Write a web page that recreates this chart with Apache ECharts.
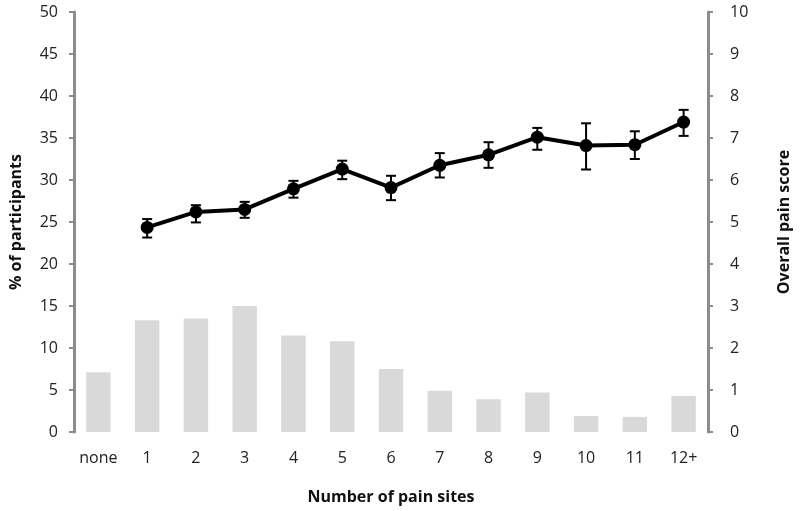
<!DOCTYPE html>
<html>
<head>
<meta charset="utf-8">
<script src="https://cdn.jsdelivr.net/npm/echarts@6/dist/echarts.min.js"></script>
<style>
  html, body { margin: 0; padding: 0; background: #fff; }
  #chart { width: 800px; height: 511px; }
</style>
</head>
<body>
<div id="chart"></div>
<script>
// number of pain sites
var categories = ['none', '1', '2', '3', '4', '5', '6', '7', '8', '9', '10', '11', '12+']
// % of participants (left axis)
var participants = [7.1, 13.3, 13.5, 15.0, 11.5, 10.8, 7.5, 4.9, 3.9, 4.7, 1.9, 1.8, 4.3]
// overall pain score (right axis), with error bar ends
var painScore = [null, 4.87, 5.24, 5.30, 5.79, 6.26, 5.82, 6.35, 6.60, 7.02, 6.82, 6.84, 7.38]
var painLow = [null, 4.63, 4.99, 5.10, 5.58, 6.02, 5.52, 6.06, 6.29, 6.72, 6.25, 6.50, 7.05]
var painHigh = [null, 5.07, 5.40, 5.48, 5.98, 6.46, 6.10, 6.64, 6.90, 7.24, 7.35, 7.16, 7.67]

var errData = []
for (var i = 0; i < categories.length; i++) {
  if (painScore[i] != null) errData.push([i, painLow[i], painHigh[i]])
}

var font = 'Open Sans'
var axisGray = '#8c8c8c'

var chart = echarts.init(document.getElementById('chart'))
chart.setOption({
  animation: false,
  grid: { left: 73, right: 88, top: 12, bottom: 79 },
  xAxis: {
    type: 'category',
    data: categories,
    axisLine: { show: false },
    axisTick: { show: false },
    axisLabel: { color: '#222', fontFamily: font, fontSize: 16, margin: 18, interval: 0 },
    name: 'Number of pain sites',
    nameLocation: 'middle',
    nameGap: 57,
    nameTextStyle: { color: '#111', fontFamily: font, fontSize: 16, fontWeight: 'bold' }
  },
  yAxis: [
    {
      type: 'value',
      min: 0, max: 50, interval: 5,
      splitLine: { show: false },
      axisLine: { show: true, lineStyle: { color: axisGray, width: 3 } },
      axisTick: { show: true, length: 5, lineStyle: { color: axisGray, width: 2 } },
      axisLabel: { color: '#222', fontFamily: font, fontSize: 16, margin: 16 },
      name: '% of participants',
      nameLocation: 'middle',
      nameGap: 50,
      nameTextStyle: { color: '#111', fontFamily: font, fontSize: 16, fontWeight: 'bold' }
    },
    {
      type: 'value',
      position: 'right',
      min: 0, max: 10, interval: 1,
      splitLine: { show: false },
      axisLine: { show: true, lineStyle: { color: axisGray, width: 3 } },
      axisTick: { show: true, length: 5, lineStyle: { color: axisGray, width: 2 } },
      axisLabel: { color: '#222', fontFamily: font, fontSize: 16, margin: 22 },
      name: 'Overall pain score',
      nameLocation: 'middle',
      nameGap: 68,
      nameRotate: 90,
      nameTextStyle: { color: '#111', fontFamily: font, fontSize: 16, fontWeight: 'bold' }
    }
  ],
  series: [
    {
      name: 'participants',
      type: 'bar',
      data: participants,
      barWidth: '50%',
      itemStyle: { color: '#d9d9d9' }
    },
    {
      name: 'error',
      type: 'custom',
      yAxisIndex: 1,
      data: errData,
      z: 3,
      renderItem: function(params, api) {
        var lo = api.coord([api.value(0), api.value(1)])
        var hi = api.coord([api.value(0), api.value(2)])
        var cap = 5
        var style = { stroke: '#000', lineWidth: 2 }
        return {
          type: 'group',
          children: [
            { type: 'line', shape: { x1: hi[0], y1: hi[1], x2: lo[0], y2: lo[1] }, style: style },
            { type: 'line', shape: { x1: hi[0] - cap, y1: hi[1], x2: hi[0] + cap, y2: hi[1] }, style: style },
            { type: 'line', shape: { x1: lo[0] - cap, y1: lo[1], x2: lo[0] + cap, y2: lo[1] }, style: style }
          ]
        }
      }
    },
    {
      name: 'pain score',
      type: 'line',
      yAxisIndex: 1,
      data: painScore,
      z: 4,
      symbol: 'circle',
      symbolSize: 13,
      lineStyle: { color: '#000', width: 4 },
      itemStyle: { color: '#000' }
    }
  ]
})
</script>
</body>
</html>
